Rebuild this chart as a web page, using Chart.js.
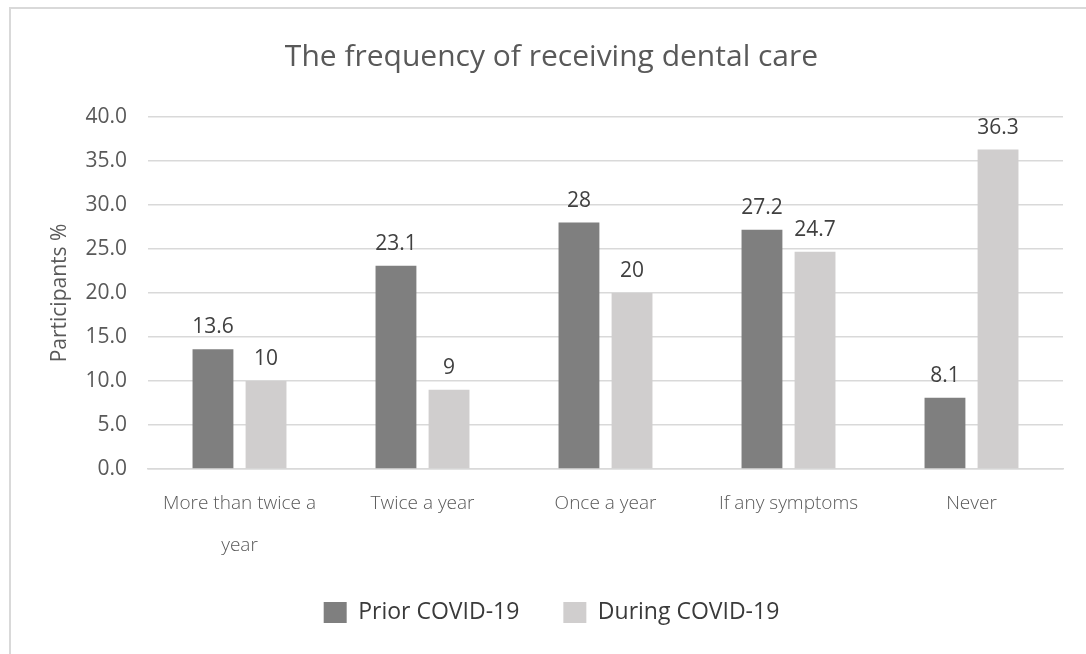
<!DOCTYPE html>
<html>
<head>
<meta charset="utf-8">
<title>Dental care frequency</title>
<script src="https://cdn.jsdelivr.net/npm/chart.js@4.4.1/dist/chart.umd.min.js"></script>
<style>
    html, body { margin: 0; padding: 0; background: #ffffff; }
    #wrap { position: relative; width: 1086px; height: 654px; }
    #frame {
        position: absolute; left: 9px; top: 7px; right: 0; bottom: 0;
        border-top: 2px solid #d9d9d9; border-left: 2px solid #d9d9d9;
    }
    canvas { position: absolute; left: 0; top: 0; }
</style>
</head>
<body>
<div id="wrap">
    <div id="frame"></div>
    <canvas id="careChart" width="1086" height="654"></canvas>
</div>
<script>
const categories = [['More than twice a', 'year'], 'Twice a year', 'Once a year', 'If any symptoms', 'Never'];
const priorCovid = [13.6, 23.1, 28, 27.2, 8.1];
const duringCovid = [10, 9, 20, 24.7, 36.3];
const yTicks = [0, 5, 10, 15, 20, 25, 30, 35, 40];

// value labels above each bar
const barValueLabels = {
    id: 'barValueLabels',
    afterDatasetsDraw(chart) {
        const ctx = chart.ctx;
        ctx.save();
        ctx.font = '21px "Open Sans"';
        ctx.fillStyle = '#404040';
        ctx.textAlign = 'center';
        ctx.textBaseline = 'alphabetic';
        chart.data.datasets.forEach((ds, i) => {
            chart.getDatasetMeta(i).data.forEach((bar, j) => {
                ctx.fillText(String(ds.data[j]), bar.x, bar.y - 16);
            });
        });
        ctx.restore();
    }
};

new Chart(document.getElementById('careChart'), {
    type: 'bar',
    data: {
        labels: categories,
        datasets: [{
            label: 'Prior COVID-19',
            data: priorCovid,
            backgroundColor: '#7f7f7f',
            categoryPercentage: 0.58,
            barPercentage: 0.77
        }, {
            label: 'During COVID-19',
            data: duringCovid,
            backgroundColor: '#d0cece',
            categoryPercentage: 0.58,
            barPercentage: 0.77
        }]
    },
    options: {
        responsive: false,
        animation: false,
        layout: {
            padding: { left: 40, right: 23, top: 0, bottom: 20 }
        },
        plugins: {
            title: {
                display: true,
                text: 'The frequency of receiving dental care',
                color: '#595959',
                font: { family: 'Open Sans', size: 30, weight: 'normal' },
                padding: { top: 39, bottom: 42 }
            },
            legend: {
                position: 'bottom',
                labels: {
                    color: '#3a3a3a',
                    font: { family: 'Open Sans', size: 23 },
                    boxWidth: 23,
                    boxHeight: 21,
                    padding: 44
                }
            },
            tooltip: { enabled: false }
        },
        scales: {
            x: {
                grid: { display: false, drawTicks: false },
                border: { color: '#d9d9d9', width: 1.5 },
                ticks: {
                    color: '#595959',
                    font: { family: 'Open Sans', size: 19, weight: 300, lineHeight: 2.21 },
                    padding: 14,
                    maxRotation: 0,
                    autoSkip: false
                },
                afterFit(scale) { scale.height = 88; }
            },
            y: {
                min: 0,
                max: 40,
                afterBuildTicks(scale) { scale.ticks = yTicks.map(v => ({ value: v })); },
                grid: { color: '#d9d9d9', lineWidth: 1.5, drawTicks: false },
                border: { display: false },
                ticks: {
                    color: '#595959',
                    font: { family: 'Open Sans', size: 21 },
                    padding: 21,
                    callback: v => v.toFixed(1)
                },
                title: {
                    display: true,
                    text: 'Participants %',
                    color: '#595959',
                    font: { family: 'Open Sans', size: 21 },
                    padding: { top: 7, bottom: 0 }
                },
                afterFit(scale) { scale.width = 108; }
            }
        }
    },
    plugins: [barValueLabels]
});
</script>
</body>
</html>
